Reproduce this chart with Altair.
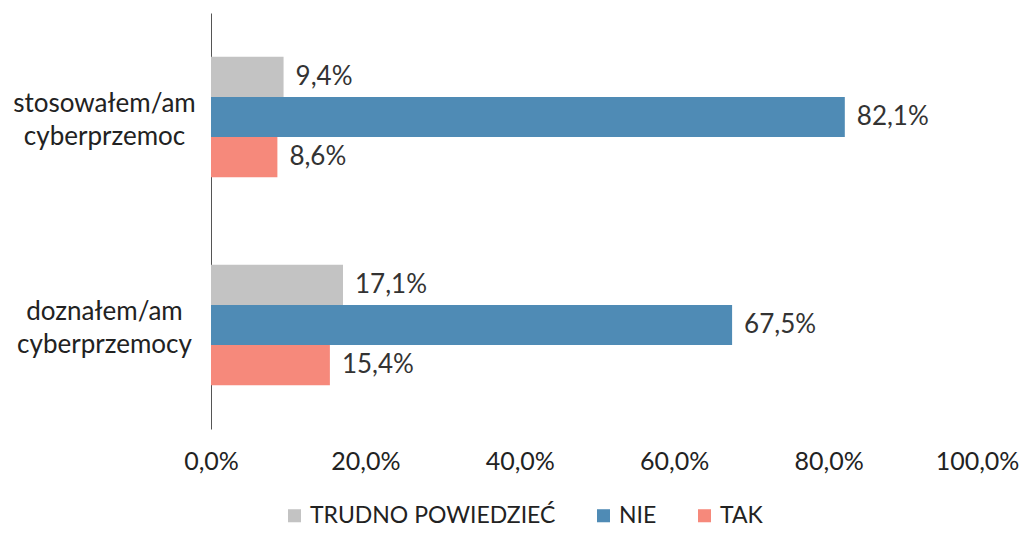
import altair as alt
import pandas as pd

categories = ["stosowałem/am cyberprzemoc", "doznałem/am cyberprzemocy"]
series = ["TRUDNO POWIEDZIEĆ", "NIE", "TAK"]
trudno = [9.4, 17.1]
nie = [82.1, 67.5]
tak = [8.6, 15.4]
colors = ["#c3c3c3", "#4f8bb5", "#f6897b"]

rows = []
for i, c in enumerate(categories):
    for s, vals in zip(series, [trudno, nie, tak]):
        rows.append({"cat": c, "series": s, "v": vals[i]})
df = pd.DataFrame(rows)

FONT = "Lato"

y = alt.Y("cat:N", sort=categories, title=None,
          scale=alt.Scale(paddingInner=0.42, paddingOuter=0.21),
          axis=alt.Axis(labelExpr="split(datum.value, ' ')", labelAlign="center",
                        labelPadding=107, labelFontSize=26, labelColor="#222222",
                        labelFont=FONT, ticks=False, domainColor="#555555",
                        labelLineHeight=33, labelLimit=400, labelOffset=-13))
x = alt.X("v:Q", title=None, scale=alt.Scale(domain=[0, 100]),
          axis=alt.Axis(values=[0, 20, 40, 60, 80, 100], grid=False, domain=False, ticks=False,
                        labelExpr="replace(format(datum.value, '.1f'), '.', ',') + '%'",
                        labelFontSize=25, labelColor="#222222", labelFont=FONT,
                        labelPadding=20, labelFlush=False, labelOverlap=False,
                        labelOffset={"condition": {"test": "datum.value == 100", "value": -6},
                                     "value": 0}))
yo = alt.YOffset("series:N", sort=series)

bars = alt.Chart(df).mark_bar().encode(
    x=x, y=y, yOffset=yo,
    color=alt.Color("series:N", sort=series,
                    scale=alt.Scale(domain=series, range=colors),
                    legend=alt.Legend(title=None, orient="none", direction="horizontal",
                                      legendX=72, legendY=491, symbolType="square",
                                      symbolSize=170, symbolStrokeWidth=0,
                                      labelFontSize=23, labelFont=FONT, labelColor="#222222",
                                      columnPadding=36, labelOffset=4, labelLimit=400)),
)

labels = alt.Chart(df).transform_calculate(
    lab="replace(format(datum.v, '.1f'), '.', ',') + '%'"
).mark_text(align="left", baseline="middle", dx=12, fontSize=26, font=FONT,
            color="#333333").encode(x="v:Q", y=alt.Y("cat:N", sort=categories), yOffset=yo,
                                    text="lab:N")

chart = (bars + labels).properties(
    width=772, height=416,
    autosize=alt.AutoSizeParams(type="none"),
    padding={"left": 203, "top": 5, "right": 36, "bottom": 101},
    background="white",
).configure_view(stroke=None)

chart.save("out.html", embed_options={"renderer": "svg", "actions": False})
